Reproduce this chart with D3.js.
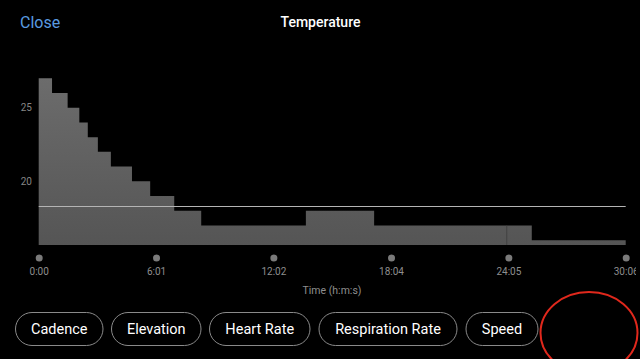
<!DOCTYPE html>
<html><head><meta charset="utf-8">
<script src="https://cdn.jsdelivr.net/npm/d3@7"></script>
<style>
html,body{margin:0;padding:0;background:#000;overflow:hidden;}
svg{display:block;font-family:Roboto,"Noto Sans",sans-serif;}
</style></head>
<body>
<svg id="c" width="640" height="359"></svg>
<script>
// Data (time in seconds from start, temperature in °C)
const segStart = [0, 41, 89, 125, 151, 182, 222, 287, 343, 417, 500, 822, 1032, 1440, 1517];
const segTemp  = [27, 26, 25, 24, 23, 22, 21, 20, 19, 18, 17, 18, 17, 17, 16];
const totalDuration = 1806;
const avgTemp = 18.3;
const xTickValues = [0, 361, 722, 1084, 1445, 1806];
const xTickLabels = ["0:00", "6:01", "12:02", "18:04", "24:05", "30:06"];
const yTickValues = [20, 25];
const buttons = ["Cadence", "Elevation", "Heart Rate", "Respiration Rate", "Speed"];

const svg = d3.select("#c");
svg.append("rect").attr("width",640).attr("height",359).attr("fill","#000");

const x = d3.scaleLinear().domain([0, totalDuration]).range([38.7, 625.7]);
const y = d3.scaleLinear().domain([15.67, 25]).range([245, 107.7]);

// header
svg.append("text").attr("x",20).attr("y",27.5).attr("fill","#5a9be0")
  .attr("font-size",16).text("Close");
svg.append("text").attr("x",320.5).attr("y",27).attr("fill","#fff")
  .attr("font-size",14).attr("font-weight",500).attr("text-anchor","middle").text("Temperature");

// gradient
const defs = svg.append("defs");
const g = defs.append("linearGradient").attr("id","fillg").attr("x1",0).attr("y1",0).attr("x2",0).attr("y2",1);
g.append("stop").attr("offset","0%").attr("stop-color","#6c6c6c");
g.append("stop").attr("offset","100%").attr("stop-color","#555555");
defs.append("clipPath").attr("id","vp").append("rect").attr("x",0).attr("y",-300).attr("width",636).attr("height",659);

const pts = segStart.map((t,i)=>({t, v: segTemp[i]}));
pts.push({t: totalDuration, v: segTemp[segTemp.length-1]});

const area = d3.area().curve(d3.curveStepAfter)
  .x(d=>x(d.t)).y0(y(15.67)).y1(d=>y(d.v));
svg.append("path").datum(pts).attr("d",area).attr("fill","url(#fillg)");

// faint seams between consecutive segments of equal value
const seams = segStart.map((t,i)=>({t, v: segTemp[i], prev: segTemp[i-1]})).filter(d=>d.prev===d.v);
svg.selectAll(".seam").data(seams).join("line").attr("class","seam")
  .attr("x1",d=>x(d.t)).attr("x2",d=>x(d.t)).attr("y1",d=>y(d.v)).attr("y2",y(15.67))
  .attr("stroke","#3e3e3e").attr("stroke-width",0.8);

// average line
svg.append("line").attr("x1",x(0)).attr("x2",x(totalDuration))
  .attr("y1",Math.round(y(avgTemp))+0.5).attr("y2",Math.round(y(avgTemp))+0.5)
  .attr("stroke","#b4b4b4").attr("stroke-width",1);

// y axis
const yAxis = d3.axisLeft(y).tickValues(yTickValues).tickSize(0).tickPadding(0);
const ya = svg.append("g").attr("transform","translate(32,0)").call(yAxis);
ya.select(".domain").remove();
ya.selectAll("text").attr("fill","#858585").attr("font-size",10).attr("font-family","Roboto,sans-serif");

// x axis
const xAxis = d3.axisBottom(x).tickValues(xTickValues)
  .tickFormat((d,i)=>xTickLabels[i]).tickSize(0).tickPadding(0);
const xa = svg.append("g").attr("transform","translate(0,258)").attr("clip-path","url(#vp)").call(xAxis);
xa.select(".domain").remove();
xa.selectAll(".tick").append("circle").attr("r",3.5).attr("fill","#7a7a7a");
xa.selectAll("text").attr("y",10).attr("fill","#8e8e8e").attr("font-size",10).attr("font-family","Roboto,sans-serif");

svg.append("text").attr("x",332).attr("y",294).attr("text-anchor","middle")
  .attr("fill","#8e8e8e").attr("font-size",10.5).text("Time (h:m:s)");

// buttons
const bx = [15.5, 111.5, 209.5, 319, 466];
const bw = [87.5, 89.5, 100.5, 138, 72];
const bg = svg.append("g");
buttons.forEach((b,i)=>{
  bg.append("rect").attr("x",bx[i]).attr("y",312.5).attr("width",bw[i]).attr("height",33)
    .attr("rx",16.5).attr("fill","none").attr("stroke","#8a8a8a").attr("stroke-width",1);
  bg.append("text").attr("x",bx[i]+bw[i]/2).attr("y",334).attr("text-anchor","middle")
    .attr("fill","#fff").attr("font-size",14.5).text(b);
});

// red annotation circle
svg.append("ellipse").attr("cx",589).attr("cy",333).attr("rx",48.5).attr("ry",41)
  .attr("fill","none").attr("stroke","#e0281c").attr("stroke-width",2);
</script>
</body></html>
